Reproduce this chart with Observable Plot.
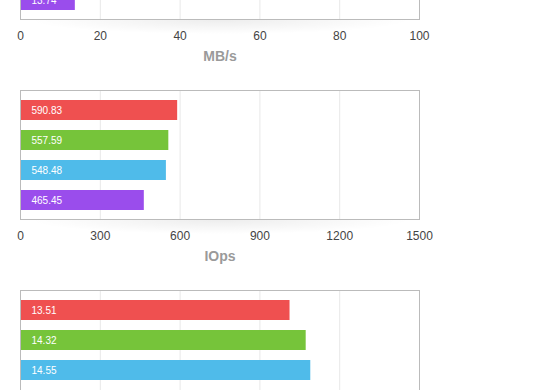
<!DOCTYPE html>
<html>
<head>
<meta charset="utf-8">
<script src="https://cdn.jsdelivr.net/npm/d3@7"></script>
<script src="https://cdn.jsdelivr.net/npm/@observablehq/plot@0.6"></script>
<style>
  html, body { margin: 0; padding: 0; background: #fff; }
  #wrap { position: relative; width: 560px; height: 390px; overflow: hidden; background: #fff; }
  .panel { position: absolute; left: 0; width: 560px; height: 200px; }
  .shadow { position: absolute; left: 30px; width: 380px; height: 14px;
    background: radial-gradient(ellipse 50% 100% at 50% 0%, rgba(0,0,0,0.07), rgba(0,0,0,0) 100%);
    pointer-events: none; }
</style>
</head>
<body>
<div id="wrap"></div>
<script>
// ---- data ----
const categories = ["s1", "s2", "s3", "s4"];
const colors = ["#ef5050", "#76c43a", "#4fbbea", "#9a4dec"];

// top panel (only the last bar is inside the view)
const mbCats = ["s4"];
const mbValues = [13.74];
const mbLabels = ["13.74"];
const mbTicks = [0, 20, 40, 60, 80, 100];
const mbTitle = "MB/s";

// middle panel
const iopsCats = ["s1", "s2", "s3", "s4"];
const iopsValues = [590.83, 557.59, 548.48, 465.45];
const iopsLabels = ["590.83", "557.59", "548.48", "465.45"];
const iopsTicks = [0, 300, 600, 900, 1200, 1500];
const iopsTitle = "IOps";

// bottom panel (first three bars inside the view; its axis lies below the view)
const thirdCats = ["s1", "s2", "s3"];
const thirdValues = [13.51, 14.32, 14.55];
const thirdLabels = ["13.51", "14.32", "14.55"];
const thirdTicks = [0, 4, 8, 12, 16, 20];
const thirdTitle = "";

const panelTops = [-120, 80, 280];
const showAxis = [true, true, false];

function panel(cats, values, labels, ticks, title, axis) {
  const data = cats.map((c, i) => ({cat: c, value: values[i], label: labels[i]}));
  const innerTicks = ticks.slice(1, -1);
  const marks = [
    Plot.ruleX(innerTicks, {stroke: "#e8e8e8", strokeWidth: 1}),
    Plot.barX(data, {y: "cat", x1: 0, x2: "value", fill: "cat"}),
    Plot.text(data, {y: "cat", x: 0, text: "label", dx: 11, textAnchor: "start",
      fill: "#fff", fontSize: 10}),
    Plot.frame({stroke: "#bbbbbb", strokeWidth: 1})
  ];
  if (axis) {
    marks.push(Plot.axisX(ticks, {tickSize: 0, tickPadding: 12, fontSize: 12, fill: "#444",
      tickFormat: d3.format("d"), label: null}));
  }
  if (title) {
    marks.push(Plot.text([title], {frameAnchor: "bottom", text: d => d, dy: 41,
      fill: "#9a9a9a", fontSize: 14, fontWeight: "bold"}));
  }
  return Plot.plot({
    width: 560,
    height: 200,
    marginTop: 10,
    marginBottom: 61,
    marginLeft: 20,
    marginRight: 141,
    style: {background: "transparent", fontFamily: "'Liberation Sans', Arial, Helvetica, sans-serif"},
    x: {domain: [ticks[0], ticks[ticks.length - 1]], axis: null},
    y: {domain: categories, range: [15, 135], paddingInner: 1 / 3, paddingOuter: 1 / 6, axis: null},
    color: {domain: categories, range: colors},
    marks
  });
}

const wrap = document.getElementById("wrap");
const specs = [
  [mbCats, mbValues, mbLabels, mbTicks, mbTitle],
  [iopsCats, iopsValues, iopsLabels, iopsTicks, iopsTitle],
  [thirdCats, thirdValues, thirdLabels, thirdTicks, thirdTitle]
];
specs.forEach((s, i) => {
  const sh = document.createElement("div");
  sh.className = "shadow";
  sh.style.top = (panelTops[i] + 140) + "px";
  wrap.appendChild(sh);
  const svg = panel(...s, showAxis[i]);
  svg.classList.add("panel");
  svg.style.position = "absolute";
  svg.style.top = panelTops[i] + "px";
  svg.style.left = "0px";
  wrap.appendChild(svg);
});
</script>
</body>
</html>
